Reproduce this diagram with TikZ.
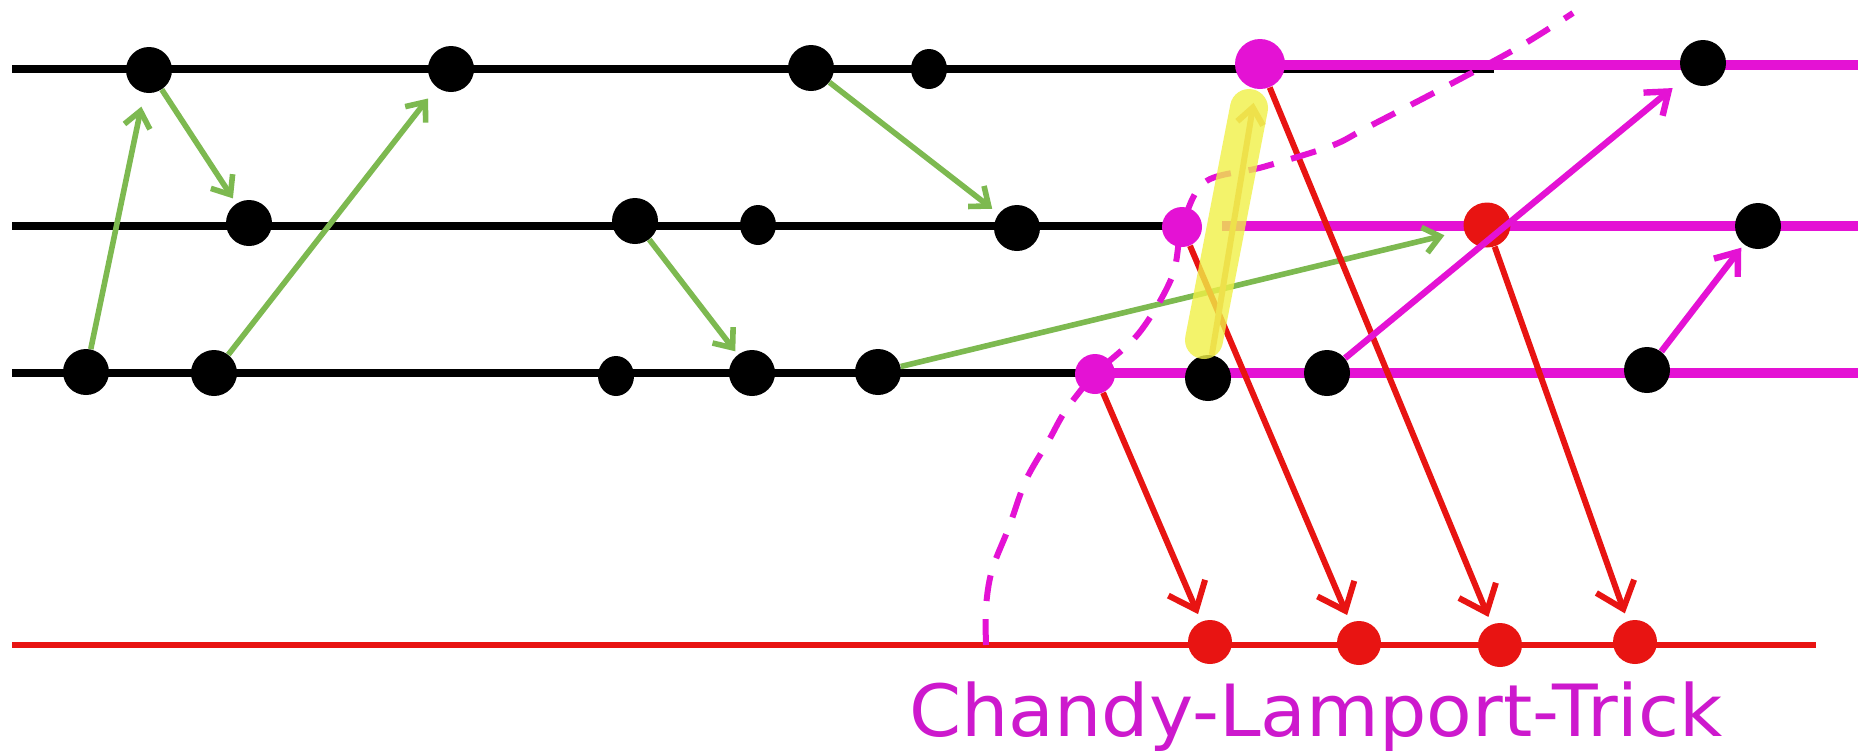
\documentclass[tikz,border=0pt]{standalone}
\usepackage{fontspec}
\newfontfamily\labelfont{DejaVu Sans}
\usetikzlibrary{arrows.meta,shapes.geometric}
\definecolor{mag}{RGB}{228,18,212}
\definecolor{magtext}{RGB}{205,25,205}
\definecolor{grn}{RGB}{125,185,80}
\definecolor{rd}{RGB}{232,20,18}
\definecolor{yel}{RGB}{240,240,70}
\definecolor{org}{RGB}{232,165,95}
\tikzset{
  dotb/.style={ellipse, fill=black, inner sep=0pt, minimum width=23pt, minimum height=23pt},
  dotbs/.style={ellipse, fill=black, inner sep=0pt, minimum width=18pt, minimum height=20pt},
  dotm/.style={ellipse, fill=mag, inner sep=0pt, minimum width=20pt, minimum height=20pt},
  dotr/.style={ellipse, fill=rd, inner sep=0pt, minimum width=22pt, minimum height=22pt},
  procline/.style={line width=4pt, black},
  magline/.style={line width=5pt, mag},
  redline/.style={line width=3pt, rd},
  gmsg/.style={grn, line width=2.8pt, -{Straight Barb[length=8pt,width=13pt]}},
  rmsg/.style={rd, line width=3pt, -{Straight Barb[length=12pt,width=20pt]}},
  mmsg/.style={mag, line width=3.2pt, -{Straight Barb[length=10pt,width=15pt]}},
  omsg/.style={org, line width=3pt, -{Straight Barb[length=8pt,width=13pt]}},
  cutline/.style={mag, line width=3pt, dash pattern=on 13pt off 9pt},
  highlight/.style={yel, opacity=0.8, line width=19pt, line cap=round}
}
\begin{document}
\begin{tikzpicture}[x=0.5pt,y=-0.5pt]
\useasboundingbox[fill=white] (0,0) rectangle (1873,751);
% process lines
\coordinate (Ta) at (12,69);   \coordinate (Tb) at (1494,69);
\coordinate (Ma) at (12,226);  \coordinate (Mb) at (1182,226);
\coordinate (Ba) at (12,373);  \coordinate (Bb) at (1095,373);
\coordinate (TMa) at (1260,65); \coordinate (TMb) at (1858,65);
\coordinate (MMa) at (1222,226); \coordinate (MMb) at (1858,226);
\coordinate (BMa) at (1095,373); \coordinate (BMb) at (1858,373);
\coordinate (Ra) at (12,645);  \coordinate (Rb) at (1816,645);
\draw[procline] (Ta) -- (Tb);
\draw[procline] (Ma) -- (Mb);
\draw[procline] (Ba) -- (Bb);
\draw[magline] (TMa) -- (TMb);
\draw[magline] (MMa) -- (MMb);
\draw[magline] (BMa) -- (BMb);
\draw[redline] (Ra) -- (Rb);
% events
\node[dotb] (t1) at (149,70) {};
\node[dotb] (t2) at (451,69) {};
\node[dotb] (t3) at (811,68) {};
\node[dotbs] (t4) at (929,69) {};
\node[dotm, minimum width=25pt, minimum height=25pt] (tm) at (1260,64) {};
\node[dotb] (t5) at (1703,63) {};
\node[dotb] (m1) at (249,223) {};
\node[dotb] (m2) at (635,221) {};
\node[dotbs] (m3) at (758,225) {};
\node[dotb] (m4) at (1017,228) {};
\node[dotm] (mm) at (1182,227) {};
\node[dotr, minimum width=23.5pt, minimum height=22.5pt] (mr) at (1487,225) {};
\node[dotb] (m5) at (1758,226) {};
\node[dotb] (b1) at (86,372) {};
\node[dotb] (b2) at (214,373) {};
\node[dotbs] (b3) at (616,376) {};
\node[dotb] (b4) at (752,373) {};
\node[dotb] (b5) at (878,372) {};
\node[dotm] (bm) at (1095,374) {};
\node[dotb] (b6) at (1208,378) {};
\node[dotb] (b7) at (1327,373) {};
\node[dotb] (b8) at (1647,370) {};
\node[dotr] (r1) at (1210,642) {};
\node[dotr] (r2) at (1359,643) {};
\node[dotr] (r3) at (1500,645) {};
\node[dotr] (r4) at (1635,642) {};
% green messages
\draw[gmsg, shorten >=7pt] (b1) -- (t1);
\draw[gmsg, shorten >=3pt] (t1) -- (m1);
\draw[gmsg, shorten >=7pt] (b2) -- (t2);
\draw[gmsg, shorten >=4pt] (t3) -- (m4);
\draw[gmsg, shorten >=2pt] (m2) -- (b4);
\draw[gmsg, shorten >=10pt] (b5) -- (mr);
% red messages
\draw[rmsg, shorten >=4pt] (bm) -- (r1);
\draw[rmsg, shorten >=4pt] (mm) -- (r2);
\draw[rmsg, shorten >=4pt] (tm) -- (r3);
\draw[rmsg, shorten >=4pt] (mr) -- (r4);
% magenta messages
\draw[mmsg, shorten >=8pt] (b7) -- (t5);
\draw[mmsg, shorten >=2pt] (b8) -- (m5);
% cut line
\draw[cutline] plot[smooth, tension=0.55] coordinates {(986,645) (986,607) (992,570) (1009,527) (1026,480) (1049,440) (1066,410) (1095,374) (1139,333) (1172,277) (1182,227) (1205,182) (1263,167) (1331,146) (1368,127) (1445,87) (1519,47) (1573,13)};
% highlighted message
\draw[omsg, shorten >=7pt] (b6) -- (tm);
\draw[highlight] (1204,340) -- (1249,108);
% label
\node[text=magtext, font=\labelfont\fontsize{36pt}{40pt}\selectfont, anchor=base west, inner sep=0pt] (title) at (909,736) {\scalebox{1.037}[1]{Chandy-Lamport-Trick}};
\end{tikzpicture}
\end{document}
